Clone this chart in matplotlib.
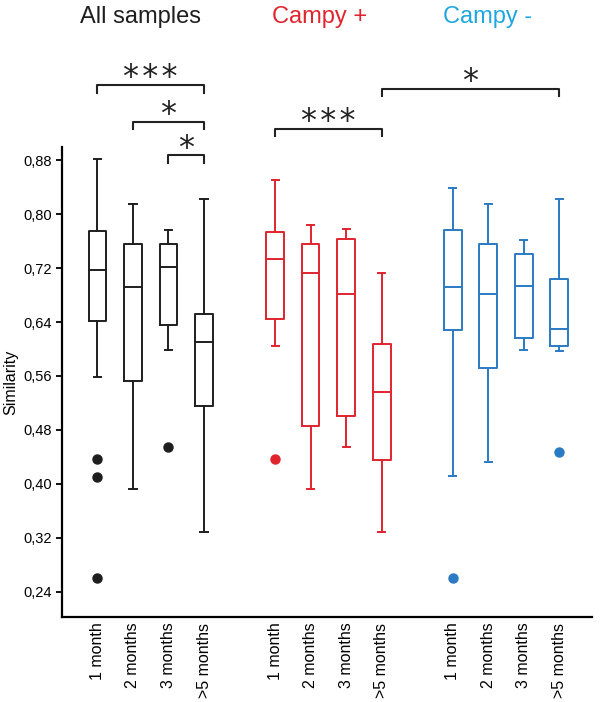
import matplotlib
matplotlib.use("Agg")
from matplotlib import pyplot as plt
from matplotlib.ticker import FuncFormatter

plt.rcParams["font.family"] = ["Liberation Sans", "DejaVu Sans"]

# Groups and time bins
groups = ["All samples", "Campy +", "Campy -"]
months = ["1 month", "2 months", "3 months", ">5 months"]
colors = ["#1e1e1e", "#e0242e", "#2a7bc4"]
title_colors = ["#1e1e1e", "#e0242e", "#1ea6e0"]

# Box statistics per group (one value per time bin)
whis_hi = [[0.882, 0.815, 0.777, 0.822],
           [0.850, 0.784, 0.778, 0.712],
           [0.839, 0.815, 0.761, 0.822]]
q3 = [[0.775, 0.756, 0.756, 0.652],
      [0.773, 0.756, 0.763, 0.608],
      [0.776, 0.756, 0.741, 0.704]]
medians = [[0.717, 0.692, 0.721, 0.610],
           [0.733, 0.712, 0.681, 0.536],
           [0.692, 0.682, 0.694, 0.629]]
q1 = [[0.642, 0.553, 0.635, 0.516],
      [0.644, 0.486, 0.500, 0.435],
      [0.628, 0.572, 0.616, 0.605]]
whis_lo = [[0.559, 0.392, 0.598, 0.328],
           [0.604, 0.392, 0.454, 0.328],
           [0.412, 0.432, 0.598, 0.597]]
outliers = [[[0.437, 0.410, 0.260], [], [0.454], []],
            [[0.437], [], [], []],
            [[0.261], [], [], [0.447]]]

# significance brackets: (box a, box b, label, height)
sig = [((0, 0), (0, 3), "*\u200a*\u200a*", 0.991),
       ((0, 1), (0, 3), "*", 0.937),
       ((0, 2), (0, 3), "*", 0.887),
       ((1, 0), (1, 3), "*\u200a*\u200a*", 0.927),
       ((1, 3), (2, 3), "*", 0.986)]


def pos(g, m):
    return 1 + g * 5 + m


fig = plt.figure(figsize=(6.01, 7.02), dpi=100)
ax = fig.add_axes([0.103, 0.121, 0.882, 0.67])

ticks = []
labels = []
for g in range(3):
    stats = []
    for m in range(4):
        stats.append(dict(med=medians[g][m], q1=q1[g][m], q3=q3[g][m],
                          whislo=whis_lo[g][m], whishi=whis_hi[g][m],
                          fliers=outliers[g][m]))
        ticks.append(pos(g, m))
        labels.append(months[m])
    c = colors[g]
    lp = dict(color=c, linewidth=1.4)
    ax.bxp(stats, positions=[pos(g, m) for m in range(4)], widths=0.5,
           boxprops=lp, whiskerprops=lp, capprops=lp, medianprops=lp,
           flierprops=dict(marker="o", markerfacecolor=c, markeredgecolor=c,
                           markersize=6.5),
           capwidths=0.2, manage_ticks=False)

ax.set_xlim(0, 14.92)
ax.set_ylim(0.2025, 0.9)
ax.set_yticks([0.24, 0.32, 0.40, 0.48, 0.56, 0.64, 0.72, 0.80, 0.88])
ax.yaxis.set_major_formatter(FuncFormatter(lambda v, p: ("%.2f" % v).replace(".", ",")))
ax.set_xticks(ticks)
ax.set_xticklabels(labels, rotation=90, fontsize=11.5, va="top")
ax.tick_params(axis="x", length=0, pad=4)
ax.tick_params(axis="y", length=4, width=1.3, labelsize=10.5, pad=3)
ax.set_ylabel("Similarity", fontsize=11.5, labelpad=4)
for s in ["top", "right"]:
    ax.spines[s].set_visible(False)
for s in ["left", "bottom"]:
    ax.spines[s].set_linewidth(1.6)

# brackets
for a, b, txt, y in sig:
    x1 = pos(*a)
    x2 = pos(*b)
    ax.plot([x1, x1, x2, x2], [y - 0.011, y, y, y - 0.011], color="#222222",
            linewidth=1.5, clip_on=False)
    ax.text((x1 + x2) / 2, y - 0.012, txt, ha="center", va="bottom",
            fontsize=23, color="#222222", clip_on=False,
            family="DejaVu Sans")

# group titles
title_x = [140, 320, 488]
for g in range(3):
    fig.text(title_x[g] / 601, 1 - 17 / 702, groups[g], ha="center", va="center",
             fontsize=17, color=title_colors[g])

fig.savefig("out.png", dpi=100)
